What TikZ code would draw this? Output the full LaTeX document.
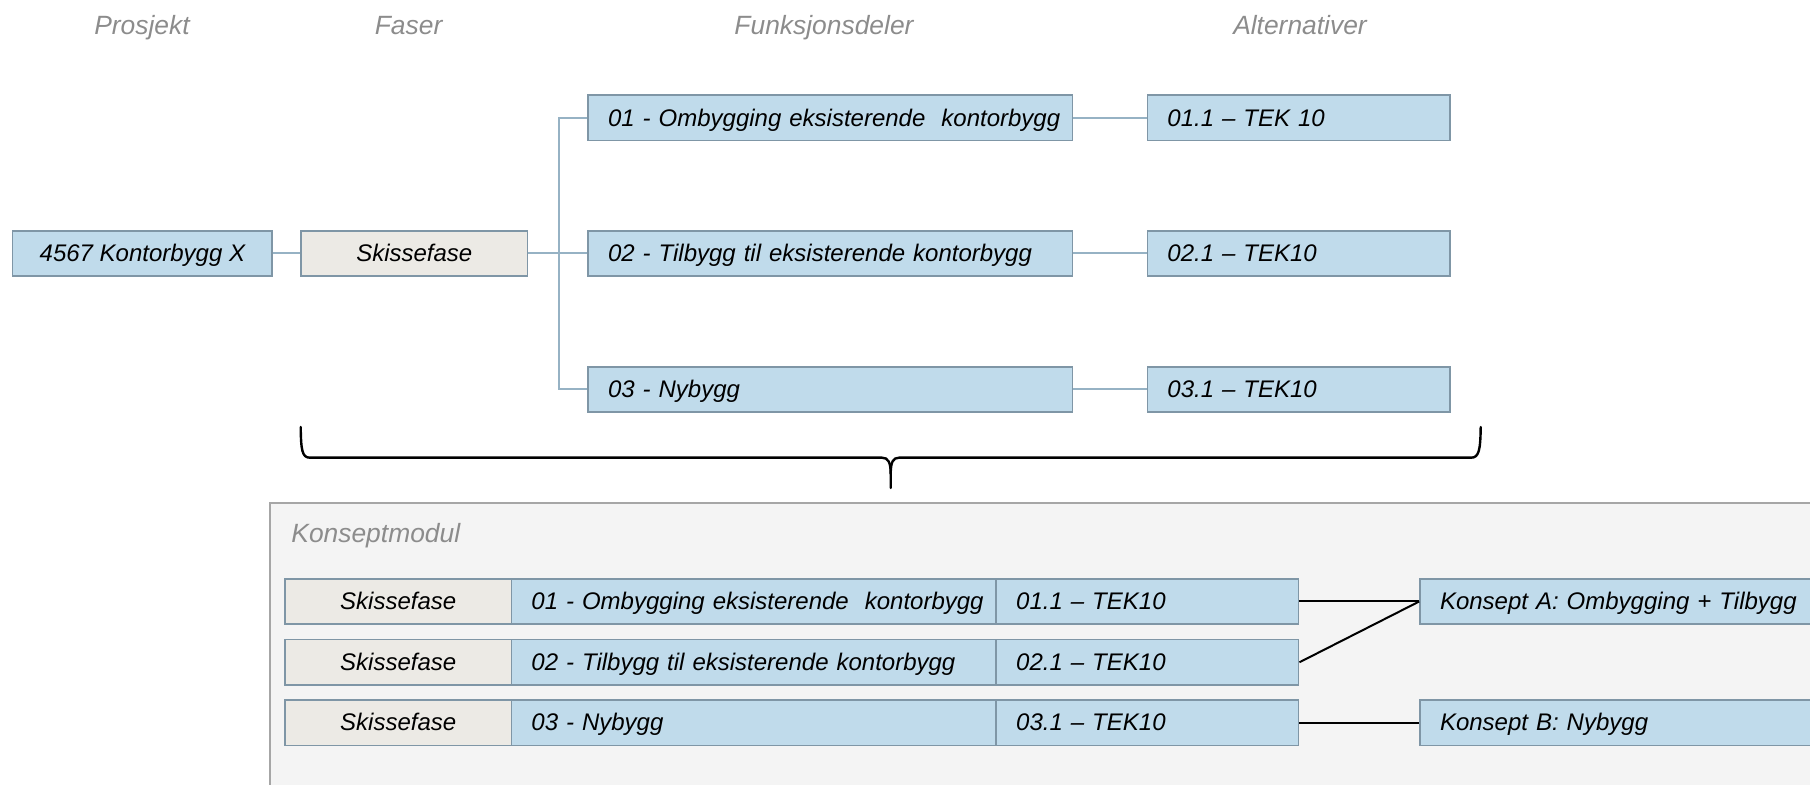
\documentclass[tikz,border=0pt]{standalone}
\usepackage{fontspec}
\setmainfont{Liberation Sans}
\definecolor{boxblue}{RGB}{192,219,235}
\definecolor{boxline}{RGB}{127,150,166}
\definecolor{phasefill}{RGB}{236,234,229}
\definecolor{linkblue}{RGB}{150,178,196}
\definecolor{headgray}{RGB}{140,140,140}
\definecolor{panelfill}{RGB}{244,244,244}
\definecolor{panelline}{RGB}{166,166,166}
\newcommand{\oneline}[1]{\mbox{#1}}
\begin{document}
\begin{tikzpicture}[x=0.5pt,y=-0.5pt,
  every node/.style={font=\itshape\fontsize{12}{14}\selectfont, inner sep=0pt,
    text height=8.6pt, text depth=0.4pt},
  head/.style={font=\itshape\fontsize{13.2}{15}\selectfont, text=headgray,
    text height=9.5pt, text depth=0pt},
  cell/.style={draw=boxline, line width=0.8pt, minimum height=22.7pt},
  bluebox/.style={cell, fill=boxblue},
  phasebox/.style={cell, fill=phasefill},
  leftbox/.style={bluebox, inner xsep=10pt, align=left, text width=#1},
  link/.style={draw=linkblue, line width=1pt},
  pair/.style={draw=black, line width=1pt},
  brace/.style={draw=black, line width=1.2pt, line cap=round}
]
\useasboundingbox (0,0) rectangle (1810,785);
\clip (0,0) rectangle (1810,785);

% column headings
\node[head] (hP) at (142,25.4) {Prosjekt};
\node[head] (hF) at (408.6,25.4) {Faser};
\node[head] (hD) at (824,25.4) {Funksjonsdeler};
\node[head] (hA) at (1300,25.4) {Alternativer};

% project tree
\node[bluebox, minimum width=129.8pt] (proj) at (142.4,253.5) {4567 Kontorbygg X};
\node[phasebox, minimum width=113.2pt] (phase) at (414.3,253.5) {Skissefase};

\node[leftbox=222.2pt] (f1) at (830.2,118) {\oneline{01 - Ombygging eksisterende\ \ kontorbygg}};
\node[leftbox=222.2pt] (f2) at (830.2,253.5) {\oneline{02 - Tilbygg til eksisterende kontorbygg}};
\node[leftbox=222.2pt] (f3) at (830.2,389.5) {\oneline{03 - Nybygg}};

\node[leftbox=131.2pt] (a1) at (1298.6,118) {\oneline{01.1 – TEK 10}};
\node[leftbox=131.2pt] (a2) at (1298.6,253.5) {\oneline{02.1 – TEK10}};
\node[leftbox=131.2pt] (a3) at (1298.6,389.5) {\oneline{03.1 – TEK10}};

\coordinate (trunk) at (558.5,253.5);
\draw[link] (proj) -- (phase);
\draw[link] (phase) -- (f2);
\draw[link] (f1.west) -| (trunk) |- (f3.west);
\draw[link] (f1) -- (a1);
\draw[link] (f2) -- (a2);
\draw[link] (f3) -- (a3);

% brace gathering the tree
\draw[brace] (300.7,427) .. controls (301,450) and (302,457.7) .. (310,457.7)
  -- (882,457.7) .. controls (888,457.7) and (890.7,462) .. (890.7,474) -- (890.7,488);
\draw[brace] (1480.7,427) .. controls (1480.4,450) and (1479,457.7) .. (1471,457.7)
  -- (899,457.7) .. controls (893,457.7) and (890.7,462) .. (890.7,474);

% concept module panel
\draw[fill=panelfill, draw=panelline, line width=1pt] (270,503.3) rectangle (1830,820);
\node[head, anchor=west] (km) at (291,533) {Konseptmodul};

\foreach \r/\y/\d/\t in {1/601.5/{01 - Ombygging eksisterende\ \ kontorbygg}/{01.1 – TEK10},
                          2/662.3/{02 - Tilbygg til eksisterende kontorbygg}/{02.1 – TEK10},
                          3/722.7/{03 - Nybygg}/{03.1 – TEK10}}{
  \node[phasebox, minimum width=113.15pt] (s\r) at (398.25,\y) {Skissefase};
  \node[leftbox=222.4pt] (d\r) at (753.8,\y) {\oneline{\d}};
  \node[leftbox=131.2pt] (t\r) at (1147.4,\y) {\oneline{\t}};
}

\node[leftbox=185pt] (kA) at (1625,601.5) {\oneline{Konsept A: Ombygging + Tilbygg}};
\node[leftbox=185pt] (kB) at (1625,722.7) {\oneline{Konsept B: Nybygg}};

\draw[pair] (t1.east) -- (kA.west);
\draw[pair] (t2.east) -- (kA.west);
\draw[pair] (t3.east) -- (kB.west);
\end{tikzpicture}
\end{document}
